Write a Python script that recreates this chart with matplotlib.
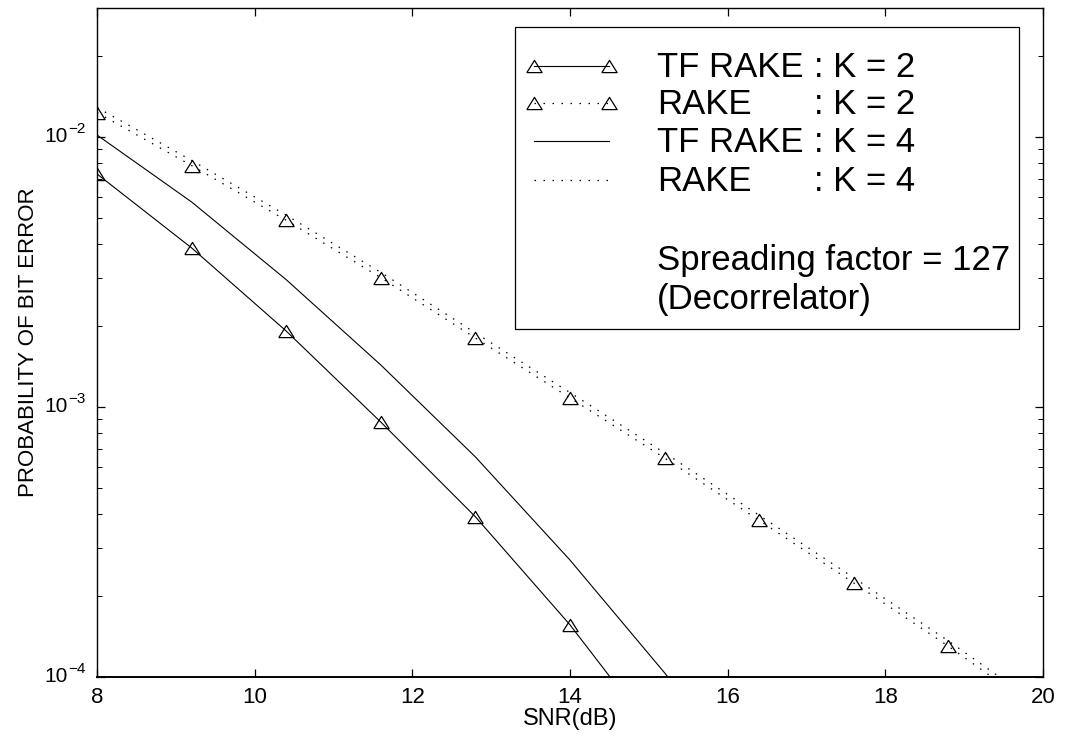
import matplotlib
matplotlib.use('Agg')
import matplotlib.pyplot as plt
from matplotlib.lines import Line2D
from matplotlib.patches import Rectangle
from matplotlib.ticker import LogLocator, NullFormatter, FixedLocator
from matplotlib.transforms import blended_transform_factory, offset_copy

plt.rcParams['font.family'] = ['Liberation Sans', 'DejaVu Sans']

# ---------------- data ----------------
snr = [8, 9.2, 10.4, 11.6, 12.8, 14, 15.2, 16.4, 17.6, 18.8, 20]
tf_rake_k2 = [0.00729, 0.00388, 0.00191, 8.79e-4, 3.92e-4, 1.56e-4, 5.46e-5]
rake_k2 = [0.0123, 0.00783, 0.00491, 0.00301, 0.00180, 0.00108, 6.47e-4,
           3.80e-4, 2.23e-4, 1.30e-4, 7.35e-5]
tf_rake_k4 = [0.01016, 0.00574, 0.00296, 0.00143, 6.53e-4, 2.71e-4, 1.036e-4, 3.8e-5]
rake_k4 = [0.01285, 0.00818, 0.00513, 0.00315, 0.00188, 0.00113, 6.76e-4,
           3.97e-4, 2.33e-4, 1.36e-4, 7.7e-5]

x_ticks = [8, 10, 12, 14, 16, 18, 20]
y_ticks = [1e-4, 1e-3, 1e-2]
y_tick_exp = ["\u22124", "\u22123", "\u22122"]
legend_names = ["TF RAKE", "RAKE", "TF RAKE", "RAKE"]
legend_k = [": K = 2", ": K = 2", ": K = 4", ": K = 4"]
note_lines = ["Spreading factor = 127", "(Decorrelator)"]
x_label = "SNR(dB)"
y_label = "PROBABILITY OF BIT ERROR"

# ---------------- figure ----------------
W, H = 1065, 739
fig = plt.figure(figsize=(W / 100, H / 100), dpi=100)
ax_l, ax_r, ax_t, ax_b = 97, 1043, 8, 677
ax = fig.add_axes([ax_l / W, 1 - ax_b / H, (ax_r - ax_l) / W, (ax_b - ax_t) / H])

tri = [(-1, -0.8), (1, -0.8), (0, 0.8), (-1, -0.8)]
mk = dict(marker=tri, markersize=11, markerfacecolor='none',
          markeredgecolor='black', markeredgewidth=0.9)
dot = (0, (1.2, 6.0))

ax.plot(snr[:len(tf_rake_k2)], tf_rake_k2, color='black', lw=0.8, **mk)
ax.plot(snr[:len(rake_k2)], rake_k2, color='black', lw=0.9, linestyle=dot, **mk)
ax.plot(snr[:len(tf_rake_k4)], tf_rake_k4, color='black', lw=0.8)
ax.plot(snr[:len(rake_k4)], rake_k4, color='black', lw=0.9, linestyle=dot)

ax.set_yscale('log')
ax.set_xlim(8, 20)
ax.set_ylim(1e-4, 3e-2)
ax.xaxis.set_major_locator(FixedLocator(x_ticks))
ax.yaxis.set_major_locator(FixedLocator(y_ticks))
ax.yaxis.set_minor_locator(LogLocator(base=10, subs=range(2, 10), numticks=20))
ax.yaxis.set_major_formatter(NullFormatter())
ax.yaxis.set_minor_formatter(NullFormatter())

ax.tick_params(which='both', direction='in', top=True, right=True,
               colors='black', labelsize=16)
ax.tick_params(which='major', length=5.5, width=0.9)
ax.tick_params(which='minor', length=3.5, width=0.7)
ax.tick_params(axis='x', pad=7)
for s in ax.spines.values():
    s.set_linewidth(1.0)
ax.spines['bottom'].set_linewidth(1.4)

# y tick labels in MATLAB style: "10" with a large raised exponent
ytrans = blended_transform_factory(ax.transAxes, ax.transData)
sup_trans = offset_copy(ytrans, fig=fig, x=0, y=2.7, units='points')
for v, e in zip(y_ticks, y_tick_exp):
    ax.text(-0.0307, v, "10", transform=ytrans, ha='right', va='center',
            fontsize=15, clip_on=False)
    ax.text(-0.0300, v, e, transform=sup_trans, ha='left', va='baseline',
            fontsize=11, clip_on=False)

ax.set_xlabel(x_label, fontsize=17)
ax.set_ylabel(y_label, fontsize=16)
ax.xaxis.set_label_coords(0.5, -0.047)
ax.yaxis.set_label_coords(-0.061, 0.5)

# ---------------- legend (drawn manually, MATLAB style) ----------------
def fx(px):
    return (px - ax_l) / (ax_r - ax_l)

def fy(py):
    return (ax_b - py) / (ax_b - ax_t)

box = Rectangle((fx(515), fy(329)), fx(1019) - fx(515), fy(27) - fy(329),
                transform=ax.transAxes, facecolor='white', edgecolor='black',
                lw=0.9, zorder=5)
ax.add_patch(box)

sample_y = [65.5, 103, 141, 179.5]
base_y = [77, 114, 152, 191]
styles = [dict(ls='-', lw=0.8, **mk), dict(ls=dot, lw=0.9, **mk),
          dict(ls='-', lw=0.8), dict(ls=dot, lw=0.9)]
for i in range(4):
    ln = Line2D([fx(534), fx(609)], [fy(sample_y[i])] * 2, color='black',
                transform=ax.transAxes, zorder=6, clip_on=False, **styles[i])
    ax.add_line(ln)
    ax.text(fx(657), fy(base_y[i]), legend_names[i], transform=ax.transAxes,
            fontsize=25, va='baseline', ha='left', zorder=7)
    ax.text(fx(814), fy(base_y[i]), legend_k[i], transform=ax.transAxes,
            fontsize=25, va='baseline', ha='left', zorder=7)
for txt, by in zip(note_lines, [270, 309]):
    ax.text(fx(657), fy(by), txt, transform=ax.transAxes, fontsize=25,
            va='baseline', ha='left', zorder=7)

fig.savefig('out.png', dpi=100)
